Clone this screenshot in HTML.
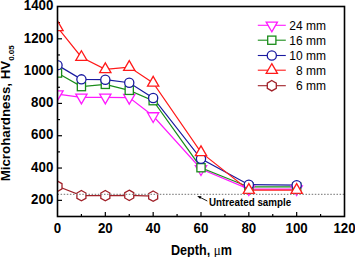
<!DOCTYPE html><html><head><meta charset="utf-8"><style>html,body{margin:0;padding:0;background:#fff;width:355px;height:257px;overflow:hidden}svg{display:block}text{font-family:"Liberation Sans",sans-serif}</style></head><body>
<svg width="355" height="257" viewBox="0 0 355 257">
<defs><clipPath id="pc"><rect x="57.5" y="6.5" width="287.0" height="210.0"/></clipPath></defs>
<line x1="57.5" y1="200.35" x2="62.0" y2="200.35" stroke="#000" stroke-width="1.2"/>
<line x1="57.5" y1="184.19" x2="60.0" y2="184.19" stroke="#000" stroke-width="1.2"/>
<line x1="57.5" y1="168.04" x2="62.0" y2="168.04" stroke="#000" stroke-width="1.2"/>
<line x1="57.5" y1="151.88" x2="60.0" y2="151.88" stroke="#000" stroke-width="1.2"/>
<line x1="57.5" y1="135.73" x2="62.0" y2="135.73" stroke="#000" stroke-width="1.2"/>
<line x1="57.5" y1="119.58" x2="60.0" y2="119.58" stroke="#000" stroke-width="1.2"/>
<line x1="57.5" y1="103.42" x2="62.0" y2="103.42" stroke="#000" stroke-width="1.2"/>
<line x1="57.5" y1="87.27" x2="60.0" y2="87.27" stroke="#000" stroke-width="1.2"/>
<line x1="57.5" y1="71.12" x2="62.0" y2="71.12" stroke="#000" stroke-width="1.2"/>
<line x1="57.5" y1="54.96" x2="60.0" y2="54.96" stroke="#000" stroke-width="1.2"/>
<line x1="57.5" y1="38.81" x2="62.0" y2="38.81" stroke="#000" stroke-width="1.2"/>
<line x1="57.5" y1="22.65" x2="60.0" y2="22.65" stroke="#000" stroke-width="1.2"/>
<line x1="81.42" y1="216.5" x2="81.42" y2="214.0" stroke="#000" stroke-width="1.2"/>
<line x1="105.33" y1="216.5" x2="105.33" y2="212.0" stroke="#000" stroke-width="1.2"/>
<line x1="129.25" y1="216.5" x2="129.25" y2="214.0" stroke="#000" stroke-width="1.2"/>
<line x1="153.17" y1="216.5" x2="153.17" y2="212.0" stroke="#000" stroke-width="1.2"/>
<line x1="177.08" y1="216.5" x2="177.08" y2="214.0" stroke="#000" stroke-width="1.2"/>
<line x1="201.00" y1="216.5" x2="201.00" y2="212.0" stroke="#000" stroke-width="1.2"/>
<line x1="224.92" y1="216.5" x2="224.92" y2="214.0" stroke="#000" stroke-width="1.2"/>
<line x1="248.83" y1="216.5" x2="248.83" y2="212.0" stroke="#000" stroke-width="1.2"/>
<line x1="272.75" y1="216.5" x2="272.75" y2="214.0" stroke="#000" stroke-width="1.2"/>
<line x1="296.67" y1="216.5" x2="296.67" y2="212.0" stroke="#000" stroke-width="1.2"/>
<line x1="320.58" y1="216.5" x2="320.58" y2="214.0" stroke="#000" stroke-width="1.2"/>
<g clip-path="url(#pc)">
<polyline points="57.50,94.05 81.42,97.45 105.33,97.45 129.25,97.61 153.17,116.02 201.00,169.01 248.83,189.04 296.67,189.04" fill="none" stroke="#ff1aff" stroke-width="1.2"/>
<polyline points="57.50,73.05 81.42,86.62 105.33,84.36 129.25,90.34 153.17,100.68 201.00,167.72 248.83,186.94 296.67,186.94" fill="none" stroke="#1a8c1a" stroke-width="1.2"/>
<polyline points="57.50,65.14 81.42,79.35 105.33,79.68 129.25,82.75 153.17,97.93 201.00,158.83 248.83,184.68 296.67,185.16" fill="none" stroke="#1a1aa0" stroke-width="1.2"/>
<polyline points="57.50,27.34 81.42,57.22 105.33,69.34 129.25,67.08 153.17,82.91 201.00,152.37 248.83,190.17 296.67,190.17" fill="none" stroke="#ff1a1a" stroke-width="1.2"/>
<polyline points="57.50,186.29 81.42,195.66 105.33,195.66 129.25,195.34 153.17,196.15" fill="none" stroke="#a02028" stroke-width="1.2"/>
<polygon points="57.50,100.55 63.13,90.80 51.87,90.80" fill="#fff" stroke="#ff1aff" stroke-width="1.3"/>
<polygon points="81.42,103.95 87.05,94.20 75.79,94.20" fill="#fff" stroke="#ff1aff" stroke-width="1.3"/>
<polygon points="105.33,103.95 110.96,94.20 99.70,94.20" fill="#fff" stroke="#ff1aff" stroke-width="1.3"/>
<polygon points="129.25,104.11 134.88,94.36 123.62,94.36" fill="#fff" stroke="#ff1aff" stroke-width="1.3"/>
<polygon points="153.17,122.52 158.80,112.77 147.54,112.77" fill="#fff" stroke="#ff1aff" stroke-width="1.3"/>
<polygon points="201.00,175.51 206.63,165.76 195.37,165.76" fill="#fff" stroke="#ff1aff" stroke-width="1.3"/>
<polygon points="248.83,195.54 254.46,185.79 243.20,185.79" fill="#fff" stroke="#ff1aff" stroke-width="1.3"/>
<polygon points="296.67,195.54 302.30,185.79 291.04,185.79" fill="#fff" stroke="#ff1aff" stroke-width="1.3"/>
<rect x="53.40" y="68.95" width="8.20" height="8.20" fill="#fff" stroke="#1a8c1a" stroke-width="1.3"/>
<rect x="77.32" y="82.52" width="8.20" height="8.20" fill="#fff" stroke="#1a8c1a" stroke-width="1.3"/>
<rect x="101.23" y="80.26" width="8.20" height="8.20" fill="#fff" stroke="#1a8c1a" stroke-width="1.3"/>
<rect x="125.15" y="86.24" width="8.20" height="8.20" fill="#fff" stroke="#1a8c1a" stroke-width="1.3"/>
<rect x="149.07" y="96.58" width="8.20" height="8.20" fill="#fff" stroke="#1a8c1a" stroke-width="1.3"/>
<rect x="196.90" y="163.62" width="8.20" height="8.20" fill="#fff" stroke="#1a8c1a" stroke-width="1.3"/>
<rect x="244.73" y="182.84" width="8.20" height="8.20" fill="#fff" stroke="#1a8c1a" stroke-width="1.3"/>
<rect x="292.57" y="182.84" width="8.20" height="8.20" fill="#fff" stroke="#1a8c1a" stroke-width="1.3"/>
<circle cx="57.50" cy="65.14" r="4.6" fill="#fff" stroke="#1a1aa0" stroke-width="1.3"/>
<circle cx="81.42" cy="79.35" r="4.6" fill="#fff" stroke="#1a1aa0" stroke-width="1.3"/>
<circle cx="105.33" cy="79.68" r="4.6" fill="#fff" stroke="#1a1aa0" stroke-width="1.3"/>
<circle cx="129.25" cy="82.75" r="4.6" fill="#fff" stroke="#1a1aa0" stroke-width="1.3"/>
<circle cx="153.17" cy="97.93" r="4.6" fill="#fff" stroke="#1a1aa0" stroke-width="1.3"/>
<circle cx="201.00" cy="158.83" r="4.6" fill="#fff" stroke="#1a1aa0" stroke-width="1.3"/>
<circle cx="248.83" cy="184.68" r="4.6" fill="#fff" stroke="#1a1aa0" stroke-width="1.3"/>
<circle cx="296.67" cy="185.16" r="4.6" fill="#fff" stroke="#1a1aa0" stroke-width="1.3"/>
<polygon points="57.50,20.84 63.13,30.59 51.87,30.59" fill="#fff" stroke="#ff1a1a" stroke-width="1.3"/>
<polygon points="81.42,50.72 87.05,60.47 75.79,60.47" fill="#fff" stroke="#ff1a1a" stroke-width="1.3"/>
<polygon points="105.33,62.84 110.96,72.59 99.70,72.59" fill="#fff" stroke="#ff1a1a" stroke-width="1.3"/>
<polygon points="129.25,60.58 134.88,70.33 123.62,70.33" fill="#fff" stroke="#ff1a1a" stroke-width="1.3"/>
<polygon points="153.17,76.41 158.80,86.16 147.54,86.16" fill="#fff" stroke="#ff1a1a" stroke-width="1.3"/>
<polygon points="201.00,145.87 206.63,155.62 195.37,155.62" fill="#fff" stroke="#ff1a1a" stroke-width="1.3"/>
<polygon points="248.83,183.67 254.46,193.42 243.20,193.42" fill="#fff" stroke="#ff1a1a" stroke-width="1.3"/>
<polygon points="296.67,183.67 302.30,193.42 291.04,193.42" fill="#fff" stroke="#ff1a1a" stroke-width="1.3"/>
<polygon points="57.50,181.09 62.00,183.69 62.00,188.89 57.50,191.49 53.00,188.89 53.00,183.69" fill="#fff" stroke="#a02028" stroke-width="1.3"/>
<polygon points="81.42,190.46 85.92,193.06 85.92,198.26 81.42,200.86 76.91,198.26 76.91,193.06" fill="#fff" stroke="#a02028" stroke-width="1.3"/>
<polygon points="105.33,190.46 109.84,193.06 109.84,198.26 105.33,200.86 100.83,198.26 100.83,193.06" fill="#fff" stroke="#a02028" stroke-width="1.3"/>
<polygon points="129.25,190.14 133.75,192.74 133.75,197.94 129.25,200.54 124.75,197.94 124.75,192.74" fill="#fff" stroke="#a02028" stroke-width="1.3"/>
<polygon points="153.17,190.95 157.67,193.55 157.67,198.75 153.17,201.35 148.66,198.75 148.66,193.55" fill="#fff" stroke="#a02028" stroke-width="1.3"/>
</g>
<line x1="57.5" y1="194.30" x2="344.5" y2="194.30" stroke="#8c8c8c" stroke-width="1.2" stroke-dasharray="1.5 1.6"/>
<rect x="57.5" y="6.5" width="287.0" height="210.0" fill="none" stroke="#000" stroke-width="1.6"/>
<text transform="translate(53.3,204.05) scale(1,1.1)" font-size="13.3" font-weight="bold" text-anchor="end">200</text>
<text transform="translate(53.3,171.74) scale(1,1.1)" font-size="13.3" font-weight="bold" text-anchor="end">400</text>
<text transform="translate(53.3,139.43) scale(1,1.1)" font-size="13.3" font-weight="bold" text-anchor="end">600</text>
<text transform="translate(53.3,107.12) scale(1,1.1)" font-size="13.3" font-weight="bold" text-anchor="end">800</text>
<text transform="translate(53.3,74.82) scale(1,1.1)" font-size="13.3" font-weight="bold" text-anchor="end">1000</text>
<text transform="translate(53.3,42.51) scale(1,1.1)" font-size="13.3" font-weight="bold" text-anchor="end">1200</text>
<text transform="translate(53.3,10.20) scale(1,1.1)" font-size="13.3" font-weight="bold" text-anchor="end">1400</text>
<text transform="translate(57.50,233) scale(1,1.12)" font-size="13.3" font-weight="bold" text-anchor="middle">0</text>
<text transform="translate(105.33,233) scale(1,1.12)" font-size="13.3" font-weight="bold" text-anchor="middle">20</text>
<text transform="translate(153.17,233) scale(1,1.12)" font-size="13.3" font-weight="bold" text-anchor="middle">40</text>
<text transform="translate(201.00,233) scale(1,1.12)" font-size="13.3" font-weight="bold" text-anchor="middle">60</text>
<text transform="translate(248.83,233) scale(1,1.12)" font-size="13.3" font-weight="bold" text-anchor="middle">80</text>
<text transform="translate(296.67,233) scale(1,1.12)" font-size="13.3" font-weight="bold" text-anchor="middle">100</text>
<text transform="translate(344.50,233) scale(1,1.12)" font-size="13.3" font-weight="bold" text-anchor="middle">120</text>
<text transform="translate(171,254.5) scale(1,1.1)" font-size="12.6" font-weight="bold">Depth, <tspan font-family="Liberation Serif" font-weight="normal" font-size="13">μ</tspan>m</text>
<text transform="translate(9.5,181.3) rotate(-90)" font-size="13.3" font-weight="bold">Microhardness, HV<tspan font-size="8" dy="4.5">0.05</tspan></text>
<line x1="257.8" y1="25.3" x2="285.8" y2="25.3" stroke="#ff1aff" stroke-width="1.1"/>
<polygon points="271.80,31.80 277.43,22.05 266.17,22.05" fill="#fff" stroke="#ff1aff" stroke-width="1.3"/>
<text x="326" y="29.80" font-size="12" text-anchor="end">24 mm</text>
<line x1="257.8" y1="40.2" x2="285.8" y2="40.2" stroke="#1a8c1a" stroke-width="1.1"/>
<rect x="267.70" y="36.10" width="8.20" height="8.20" fill="#fff" stroke="#1a8c1a" stroke-width="1.3"/>
<text x="326" y="44.70" font-size="12" text-anchor="end">16 mm</text>
<line x1="257.8" y1="55.5" x2="285.8" y2="55.5" stroke="#1a1aa0" stroke-width="1.1"/>
<circle cx="271.80" cy="55.50" r="4.6" fill="#fff" stroke="#1a1aa0" stroke-width="1.3"/>
<text x="326" y="60.00" font-size="12" text-anchor="end">10 mm</text>
<line x1="257.8" y1="70.2" x2="285.8" y2="70.2" stroke="#ff1a1a" stroke-width="1.1"/>
<polygon points="271.80,63.70 277.43,73.45 266.17,73.45" fill="#fff" stroke="#ff1a1a" stroke-width="1.3"/>
<text x="326" y="74.70" font-size="12" text-anchor="end">8 mm</text>
<line x1="257.8" y1="85.7" x2="285.8" y2="85.7" stroke="#a02028" stroke-width="1.1"/>
<polygon points="271.80,80.50 276.30,83.10 276.30,88.30 271.80,90.90 267.30,88.30 267.30,83.10" fill="#fff" stroke="#a02028" stroke-width="1.3"/>
<text x="326" y="90.20" font-size="12" text-anchor="end">6 mm</text>
<text transform="translate(209,205.6) scale(1,1.15)" font-size="9.8" font-weight="bold">Untreated sample</text>
<line x1="207.3" y1="201" x2="200" y2="197.3" stroke="#000" stroke-width="0.9"/>
<polygon points="197.2,196 201.5,196.3 200.2,199" fill="#000"/>
</svg></body></html>
